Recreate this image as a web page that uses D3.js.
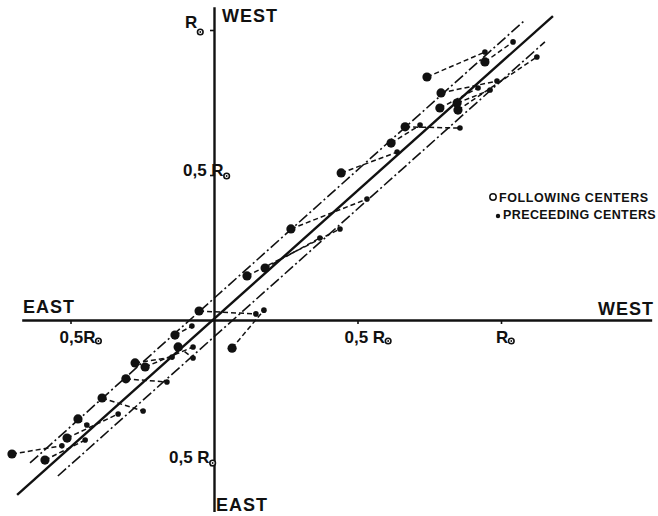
<!DOCTYPE html>
<html>
<head>
<meta charset="utf-8">
<script src="https://cdn.jsdelivr.net/npm/d3@7"></script>
<style>
  body { margin: 0; background: #fff; }
  svg { display: block; }
  text { font-family: "Liberation Sans", Arial, sans-serif; font-weight: bold; fill: #111; }
</style>
</head>
<body>
<svg id="chart"></svg>
<script>
// positions in units of the solar radius (x: east-west, y: east-west)
var following = [
  [0.742, 0.838], [0.944, 0.890], [0.791, 0.783], [0.850, 0.724], [0.847, 0.748],
  [0.787, 0.731], [0.666, 0.666], [0.617, 0.610], [0.443, 0.507], [0.268, 0.314],
  [0.178, 0.179], [0.115, 0.152], [-0.052, 0.031], [0.063, -0.097], [-0.136, -0.052],
  [-0.125, -0.093], [-0.275, -0.148], [-0.240, -0.162], [-0.307, -0.203], [-0.390, -0.269],
  [-0.474, -0.341], [-0.512, -0.407], [-0.704, -0.462], [-0.589, -0.483]
];
var preceding = [
  [0.944, 0.924], [1.042, 0.959], [0.986, 0.824], [1.125, 0.907], [0.962, 0.793],
  [0.920, 0.800], [0.857, 0.662], [0.718, 0.672], [0.638, 0.579], [0.533, 0.417],
  [0.369, 0.283], [0.439, 0.314], [0.146, 0.021], [0.174, 0.034], [-0.077, -0.021],
  [-0.073, -0.131], [-0.146, -0.128], [-0.073, -0.093], [-0.164, -0.214], [-0.247, -0.314],
  [-0.443, -0.362], [-0.334, -0.324], [-0.530, -0.434], [-0.449, -0.414]
];
var meanLine = [[-0.686, -0.603], [1.181, 1.048]];
var upperLimit = [[-0.641, -0.493], [1.080, 1.031]];
var lowerLimit = [[-0.544, -0.538], [1.153, 0.959]];

var xTicks = [-0.5, 0.5, 1];
var yTicks = [1, 0.5, -0.5];
var xTickLabels = ["0,5R", "0,5 R", "R"];
var yTickLabels = ["R", "0,5 R", "0,5 R"];
var legendLabels = ["FOLLOWING CENTERS", "PRECEEDING CENTERS"];

var width = 658, height = 516;
var svg = d3.select("#chart").attr("width", width).attr("height", height);

var x = d3.scaleLinear().domain([-0.67, 1.525]).range([214 - 0.67 * 287, 214 + 1.525 * 287]);
var y = d3.scaleLinear().domain([-0.66, 1.08]).range([320 + 0.66 * 290, 320 - 1.08 * 290]);

var line = d3.line().x(function(d) { return x(d[0]); }).y(function(d) { return y(d[1]); });

// guide lines
svg.append("path").datum(upperLimit).attr("d", line)
  .attr("fill", "none").attr("stroke", "#111").attr("stroke-width", 1.6)
  .attr("stroke-dasharray", "11,3,2,3");
svg.append("path").datum(lowerLimit).attr("d", line)
  .attr("fill", "none").attr("stroke", "#111").attr("stroke-width", 1.6)
  .attr("stroke-dasharray", "11,3,2,3");
svg.append("path").datum(meanLine).attr("d", line)
  .attr("fill", "none").attr("stroke", "#111").attr("stroke-width", 2.4);

// pairs following -> preceding
svg.append("g").selectAll("path")
  .data(following.map(function(f, i) { return [f, preceding[i]]; }))
  .enter().append("path")
  .attr("d", line)
  .attr("fill", "none").attr("stroke", "#111").attr("stroke-width", 1.5)
  .attr("stroke-dasharray", "5,3");

// axes
var xAxis = d3.axisBottom(x).tickValues(xTicks).tickSize(4).tickSizeOuter(0).tickFormat("");
var yAxis = d3.axisLeft(y).tickValues(yTicks).tickSize(4).tickSizeOuter(0).tickFormat("");

var gx = svg.append("g").attr("transform", "translate(0," + y(0) + ")").call(xAxis);
var gy = svg.append("g").attr("transform", "translate(" + x(0) + ",0)").call(yAxis);
[gx, gy].forEach(function(g) {
  g.select(".domain").attr("stroke", "#111").attr("stroke-width", 2.4);
  g.selectAll(".tick line").attr("stroke", "#111").attr("stroke-width", 1.6);
});

// markers
svg.append("g").selectAll("circle").data(following).enter().append("circle")
  .attr("cx", function(d) { return x(d[0]); })
  .attr("cy", function(d) { return y(d[1]); })
  .attr("r", 4.6).attr("fill", "#111");
svg.append("g").selectAll("circle").data(preceding).enter().append("circle")
  .attr("cx", function(d) { return x(d[0]); })
  .attr("cy", function(d) { return y(d[1]); })
  .attr("r", 2.8).attr("fill", "#111");

// sun symbol helper
function sun(cx, cy) {
  svg.append("circle").attr("cx", cx).attr("cy", cy).attr("r", 2.8)
    .attr("fill", "#fff").attr("stroke", "#111").attr("stroke-width", 1.6);
  svg.append("circle").attr("cx", cx).attr("cy", cy).attr("r", 0.9).attr("fill", "#111");
}

// x tick labels
var xOff = [-11, -13, -5];
xTicks.forEach(function(v, i) {
  var t = svg.append("text").attr("x", x(v) + xOff[i]).attr("y", y(0) + 23)
    .attr("font-size", 17).text(xTickLabels[i]);
  var bb = t.node().getBBox();
  sun(bb.x + bb.width + 3, y(0) + 21);
});

// y tick labels
var yLab = [
  { x: 185, dy: -2 },
  { x: 183, dy: 1 },
  { x: 169, dy: -2 }
];
yTicks.forEach(function(v, i) {
  var t = svg.append("text").attr("x", yLab[i].x).attr("y", y(v) + yLab[i].dy)
    .attr("font-size", 17).text(yTickLabels[i]);
  var bb = t.node().getBBox();
  sun(bb.x + bb.width + 3, y(v) + yLab[i].dy + (i === 0 ? 4 : 0));
});

// direction labels
svg.append("text").attr("x", 222).attr("y", 22).attr("font-size", 18).attr("letter-spacing", 1).text("WEST");
svg.append("text").attr("x", 216).attr("y", 511).attr("font-size", 18).attr("letter-spacing", 1).text("EAST");
svg.append("text").attr("x", 23).attr("y", 313).attr("font-size", 18).attr("letter-spacing", 1).text("EAST");
svg.append("text").attr("x", 598).attr("y", 315).attr("font-size", 18).attr("letter-spacing", 1).text("WEST");

// legend
svg.append("circle").attr("cx", 493).attr("cy", 197).attr("r", 3.2)
  .attr("fill", "#fff").attr("stroke", "#111").attr("stroke-width", 1.5);
svg.append("text").attr("x", 499).attr("y", 202).attr("font-size", 12.5).attr("letter-spacing", 0.6).text(legendLabels[0]);
svg.append("circle").attr("cx", 498).attr("cy", 216).attr("r", 2.2).attr("fill", "#111");
svg.append("text").attr("x", 503).attr("y", 219).attr("font-size", 12.5).attr("letter-spacing", 0.4).text(legendLabels[1]);
</script>
</body>
</html>
